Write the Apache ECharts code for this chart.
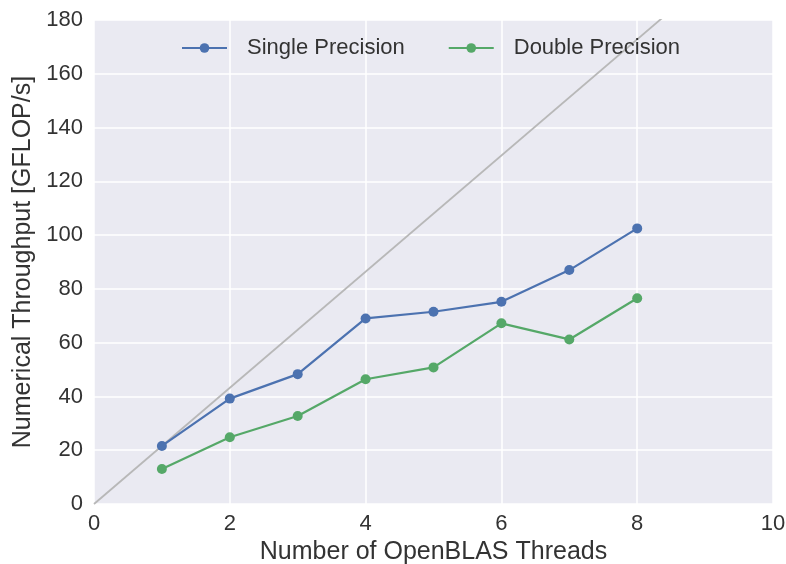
<!DOCTYPE html>
<html>
<head>
<meta charset="utf-8">
<title>OpenBLAS thread scaling</title>
<script src="https://cdn.jsdelivr.net/npm/echarts@6/dist/echarts.min.js"></script>
<style>
  html, body { margin: 0; padding: 0; background: #ffffff; }
  #chart { width: 786px; height: 564px; }
</style>
</head>
<body>
<div id="chart"></div>
<script>
// Thread counts and measured throughput (GFLOP/s)
const threads = [1, 2, 3, 4, 5, 6, 7, 8];
const singlePrecision = [21.6, 39.2, 48.3, 69.0, 71.5, 75.2, 87.0, 102.5];
const doublePrecision = [13.0, 24.8, 32.7, 46.4, 50.8, 67.2, 61.2, 76.5];

// Ideal linear scaling from the single-thread single-precision result
const idealPerThread = 21.6;
const idealThreads = [0, 10];

const xTicks = { min: 0, max: 10, interval: 2 };
const yTicks = { min: 0, max: 180, interval: 20 };

const FONT = '"Liberation Sans", Arial, sans-serif';
const TEXT = '#333333';

const pairs = (xs, ys) => xs.map((x, i) => [x, ys[i]]);

const chart = echarts.init(document.getElementById('chart'), null, { renderer: 'canvas' });

chart.setOption({
  animation: false,
  backgroundColor: '#ffffff',
  textStyle: { fontFamily: FONT, color: TEXT },
  grid: {
    left: 94, right: 13, top: 20, bottom: 60,
    show: true, backgroundColor: '#eaeaf2', borderWidth: 0,
    containLabel: false,
    outerBoundsMode: 'none'
  },
  legend: {
    data: ['Single Precision', 'Double Precision'],
    left: 176, top: 32,
    itemWidth: 45, itemHeight: 12, itemGap: 43,
    textStyle: { fontFamily: FONT, fontSize: 22, color: TEXT, padding: [0, 0, 0, 15] }
  },
  xAxis: {
    type: 'value',
    min: xTicks.min, max: xTicks.max, interval: xTicks.interval,
    name: 'Number of OpenBLAS Threads',
    nameLocation: 'middle', nameGap: 35,
    nameTextStyle: { fontFamily: FONT, fontSize: 25, color: TEXT },
    axisLine: { show: false }, axisTick: { show: false },
    axisLabel: { fontFamily: FONT, fontSize: 22, color: TEXT, margin: 9 },
    splitLine: { show: true, lineStyle: { color: '#ffffff', width: 1.5 } }
  },
  yAxis: {
    type: 'value',
    min: yTicks.min, max: yTicks.max, interval: yTicks.interval,
    name: 'Numerical Throughput [GFLOP/s]',
    nameLocation: 'middle', nameGap: 53, nameRotate: 90,
    nameTextStyle: { fontFamily: FONT, fontSize: 25, color: TEXT },
    axisLine: { show: false }, axisTick: { show: false },
    axisLabel: { fontFamily: FONT, fontSize: 22, color: TEXT, margin: 11 },
    splitLine: { show: true, lineStyle: { color: '#ffffff', width: 1.5 } }
  },
  series: [
    {
      name: 'ideal',
      type: 'line',
      data: idealThreads.map(t => [t, t * idealPerThread]),
      showSymbol: false, symbol: 'none',
      silent: true, clip: true, z: 1,
      lineStyle: { color: '#b8b8b8', width: 1.8 }
    },
    {
      name: 'Single Precision',
      type: 'line',
      data: pairs(threads, singlePrecision),
      symbol: 'circle', symbolSize: 10, z: 3,
      itemStyle: { color: '#4c72b0' },
      lineStyle: { color: '#4c72b0', width: 2.2 }
    },
    {
      name: 'Double Precision',
      type: 'line',
      data: pairs(threads, doublePrecision),
      symbol: 'circle', symbolSize: 10, z: 3,
      itemStyle: { color: '#55a868' },
      lineStyle: { color: '#55a868', width: 2.2 }
    }
  ]
});
</script>
</body>
</html>
